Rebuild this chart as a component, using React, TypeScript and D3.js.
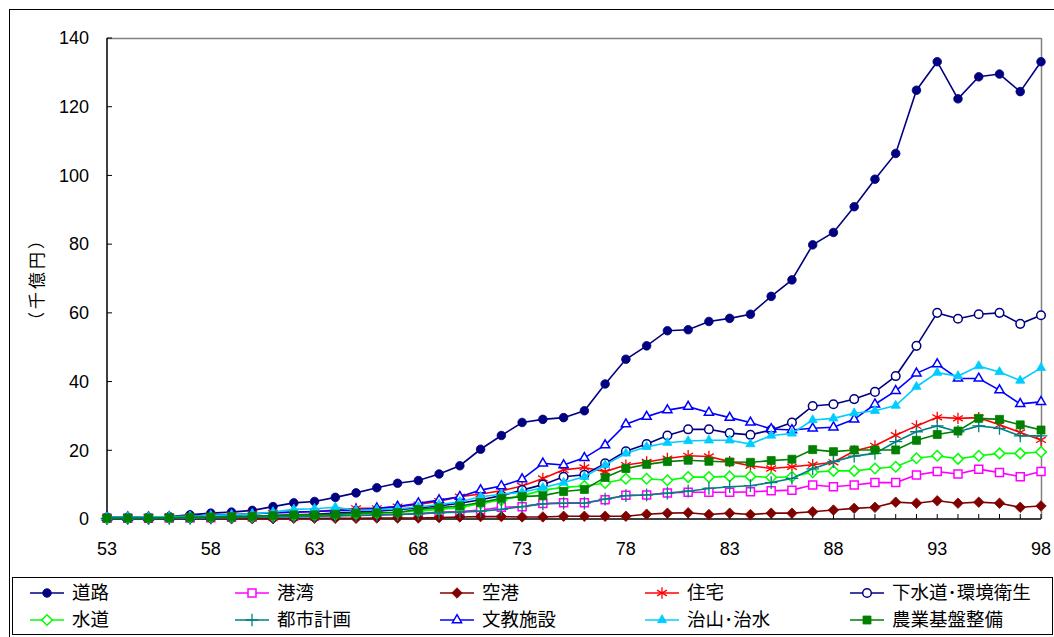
import React from 'react';
import * as d3 from 'd3';

// 年度 (53 .. 98)
const years = [
  53, 54, 55, 56, 57, 58, 59, 60, 61, 62, 63, 64, 65, 66, 67, 68, 69, 70, 71, 72, 73, 74, 75,
  76, 77, 78, 79, 80, 81, 82, 83, 84, 85, 86, 87, 88, 89, 90, 91, 92, 93, 94, 95, 96, 97, 98,
];
const xTickLabels = [53, 58, 63, 68, 73, 78, 83, 88, 93, 98];
const yTicks = [0, 20, 40, 60, 80, 100, 120, 140];

// 千億円
const road = [
  0.5, 0.5, 0.5, 0.7, 1.2, 1.7, 2.0, 2.5, 3.6, 4.7, 5.1, 6.3, 7.6, 9.1, 10.4, 11.2, 13.1, 15.5, 20.3, 24.3, 28.1, 29.0, 29.5,
  31.5, 39.3, 46.5, 50.4, 54.8, 55.1, 57.5, 58.4, 59.6, 64.8, 69.6, 79.8, 83.4, 90.9, 98.9, 106.4, 124.8, 133.1, 122.3, 128.7, 129.5, 124.4, 133.1,
];
const harbor = [
  0.2, 0.2, 0.2, 0.3, 0.3, 0.4, 0.5, 0.6, 0.7, 0.8, 0.9, 1.0, 1.1, 1.2, 1.4, 1.6, 2.0, 2.2, 2.6, 3.4, 3.6, 4.5, 4.7,
  4.7, 5.6, 6.9, 7.0, 7.6, 7.8, 7.8, 7.8, 7.9, 8.2, 8.4, 9.9, 9.4, 9.9, 10.6, 10.6, 12.8, 13.8, 13.1, 14.5, 13.5, 12.3, 13.8,
];
const airport = [
  0.0, 0.0, 0.0, 0.1, 0.1, 0.1, 0.1, 0.1, 0.1, 0.2, 0.2, 0.2, 0.2, 0.3, 0.3, 0.3, 0.4, 0.6, 0.7, 0.7, 0.6, 0.6, 0.8,
  0.8, 0.8, 0.8, 1.4, 1.7, 1.8, 1.3, 1.7, 1.3, 1.7, 1.7, 2.1, 2.6, 3.1, 3.4, 4.9, 4.6, 5.3, 4.6, 4.9, 4.6, 3.4, 3.8,
];
const housing = [
  0.3, 0.4, 0.5, 0.6, 0.8, 1.0, 1.2, 1.5, 1.8, 2.0, 2.2, 2.6, 3.1, 3.1, 3.6, 4.2, 5.2, 6.5, 7.3, 8.2, 9.6, 11.8, 14.3,
  15.0, 13.8, 15.7, 16.6, 17.6, 18.4, 18.2, 16.7, 15.5, 14.7, 15.2, 15.8, 16.5, 19.8, 21.3, 24.4, 27.1, 29.6, 29.3, 29.5, 27.4, 25.2, 23.0,
];
const sewer = [
  0.2, 0.2, 0.2, 0.3, 0.4, 0.5, 0.6, 0.8, 1.0, 1.2, 1.4, 1.7, 2.0, 2.3, 2.7, 3.2, 3.8, 4.6, 5.6, 6.8, 8.4, 10.0, 12.3,
  12.9, 16.2, 19.7, 21.8, 24.3, 26.1, 26.1, 25.0, 24.5, 25.9, 28.1, 32.9, 33.4, 34.9, 37.0, 41.6, 50.4, 60.0, 58.3, 59.6, 60.0, 56.8, 59.3,
];
const water = [
  0.2, 0.2, 0.3, 0.3, 0.4, 0.5, 0.6, 0.7, 0.8, 1.0, 1.1, 1.3, 1.5, 1.7, 2.0, 2.3, 2.8, 3.3, 4.5, 5.5, 6.8, 8.4, 9.2,
  9.6, 10.5, 11.7, 11.7, 11.3, 12.2, 12.2, 12.4, 12.4, 12.1, 12.3, 13.6, 14.0, 14.0, 14.7, 15.2, 17.7, 18.4, 17.5, 18.4, 19.1, 19.1, 19.5,
];
const cityPlan = [
  0.1, 0.1, 0.1, 0.2, 0.2, 0.3, 0.4, 0.5, 0.6, 0.7, 0.8, 0.9, 1.0, 1.1, 1.3, 1.5, 1.8, 2.0, 2.3, 2.8, 3.6, 4.4, 4.6,
  4.6, 5.8, 6.8, 7.0, 7.5, 8.1, 8.9, 9.4, 9.7, 10.6, 11.8, 14.6, 16.7, 18.3, 19.1, 22.5, 25.4, 27.1, 25.4, 27.1, 26.4, 24.2, 24.2,
];
const education = [
  0.5, 0.5, 0.5, 0.6, 0.8, 1.0, 1.2, 1.5, 1.8, 2.0, 2.2, 2.4, 2.6, 3.1, 3.6, 4.6, 5.5, 6.5, 8.4, 9.6, 11.6, 16.2, 15.7,
  17.8, 21.5, 27.6, 29.8, 31.7, 32.7, 31.0, 29.5, 28.1, 26.2, 25.9, 26.4, 26.7, 29.0, 33.4, 37.3, 42.4, 45.1, 40.9, 40.9, 37.5, 33.5, 34.1,
];
const flood = [
  0.5, 0.6, 0.6, 0.7, 0.8, 1.0, 1.2, 1.5, 2.0, 2.8, 3.0, 3.4, 2.5, 2.7, 3.0, 3.5, 4.2, 5.0, 6.5, 7.2, 7.8, 9.1, 10.6,
  12.3, 15.7, 19.1, 21.0, 22.2, 22.7, 22.9, 22.9, 21.8, 24.3, 24.9, 28.8, 29.3, 30.8, 31.5, 33.0, 38.5, 42.6, 41.6, 44.5, 42.8, 40.3, 44.0,
];
const farm = [
  0.3, 0.3, 0.3, 0.4, 0.5, 0.6, 0.7, 0.8, 1.0, 1.2, 1.2, 1.4, 1.7, 1.8, 1.9, 2.8, 3.3, 3.8, 4.8, 6.0, 6.5, 6.8, 8.0,
  8.6, 12.1, 14.7, 15.9, 16.7, 17.1, 16.8, 16.6, 16.5, 17.0, 17.4, 20.2, 19.6, 20.1, 20.1, 20.1, 22.9, 24.6, 25.6, 29.3, 29.0, 27.4, 25.9,
];

type Marker = 'circle' | 'square' | 'diamond' | 'asterisk' | 'plus' | 'triangle';

interface Series {
  name: string;
  values: number[];
  color: string;
  marker: Marker;
  filled: boolean;
}

const series: Series[] = [
  { name: '道路', values: road, color: '#000080', marker: 'circle', filled: true },
  { name: '港湾', values: harbor, color: '#FF00FF', marker: 'square', filled: false },
  { name: '空港', values: airport, color: '#800000', marker: 'diamond', filled: true },
  { name: '住宅', values: housing, color: '#FF0000', marker: 'asterisk', filled: false },
  { name: '下水道･環境衛生', values: sewer, color: '#000080', marker: 'circle', filled: false },
  { name: '水道', values: water, color: '#00FF00', marker: 'diamond', filled: false },
  { name: '都市計画', values: cityPlan, color: '#008080', marker: 'plus', filled: false },
  { name: '文教施設', values: education, color: '#0000FF', marker: 'triangle', filled: false },
  { name: '治山･治水', values: flood, color: '#00CCFF', marker: 'triangle', filled: true },
  { name: '農業基盤整備', values: farm, color: '#008000', marker: 'square', filled: true },
];

const symbolPath = (m: Marker): string => {
  switch (m) {
    case 'circle': return d3.symbol().type(d3.symbolCircle).size(58)()!;
    case 'square': return d3.symbol().type(d3.symbolSquare).size(64)()!;
    case 'diamond': return d3.symbol().type(d3.symbolDiamond2).size(70)()!;
    case 'asterisk': return d3.symbol().type(d3.symbolAsterisk).size(90)()!;
    case 'plus': return d3.symbol().type(d3.symbolPlus).size(55)()!;
    case 'triangle': return d3.symbol().type(d3.symbolTriangle2).size(60)()!;
  }
};

const numFont = '"Liberation Sans", Arial, sans-serif';
const jpFont = '"Noto Sans CJK JP", "Noto Sans", sans-serif';

function MarkerShape({ s, x, y }: { s: Series; x: number; y: number }) {
  const stroked = s.marker === 'asterisk' || s.marker === 'plus';
  return (
    <path
      d={symbolPath(s.marker)}
      transform={`translate(${x},${y})`}
      fill={stroked ? 'none' : s.filled ? s.color : '#fff'}
      stroke={s.color}
      strokeWidth={stroked ? 1.3 : s.filled ? 0.8 : 1.5}
    />
  );
}

export default function App() {
  const W = 1054;
  const H = 637;
  const plot = { left: 107, right: 1041, top: 38, bottom: 519 };

  const x = d3.scaleLinear().domain([53, 98]).range([plot.left, plot.right]);
  const y = d3.scaleLinear().domain([0, 140]).range([plot.bottom, plot.top]);

  const line = d3.line<number>()
    .x((_, i) => x(years[i]))
    .y(d => y(d));

  const legendCols = [30, 235, 440, 645, 850];
  const legendRows = [593, 620];

  return (
    <svg width={W} height={H} style={{ position: 'absolute', left: 0, top: 0, background: '#fff' }}>
      {/* outer frame */}
      <rect x={9.5} y={9.5} width={W + 10} height={H + 10} fill="none" stroke="#000" strokeWidth={1} />

      {/* plot frame */}
      <line x1={plot.left} x2={plot.right} y1={plot.top + 0.5} y2={plot.top + 0.5} stroke="#808080" strokeWidth={1.5} />
      <line x1={plot.right + 0.5} x2={plot.right + 0.5} y1={plot.top} y2={plot.bottom} stroke="#808080" strokeWidth={1.5} />

      {/* y axis */}
      <line x1={plot.left} x2={plot.left} y1={plot.top} y2={plot.bottom} stroke="#000" strokeWidth={1.5} />
      {yTicks.map(t => (
        <g key={t}>
          <line x1={plot.left} x2={plot.left + 5} y1={y(t)} y2={y(t)} stroke="#000" strokeWidth={1} />
          <text x={89} y={y(t)} dy="0.35em" textAnchor="end" fontFamily={numFont} fontSize={18} fill="#000">
            {t}
          </text>
        </g>
      ))}
      <text
        transform="translate(37,279) rotate(-90)"
        dy="0.35em"
        fontFamily={jpFont}
        fontSize={17}
        letterSpacing={3}
        textAnchor="middle"
        fill="#000"
      >
        （千億円）
      </text>

      {/* x axis */}
      <line x1={plot.left} x2={plot.right} y1={plot.bottom} y2={plot.bottom} stroke="#000" strokeWidth={1.5} />
      {years.map(yr => (
        <line key={yr} x1={x(yr)} x2={x(yr)} y1={plot.bottom} y2={plot.bottom - 5} stroke="#000" strokeWidth={1} />
      ))}
      {xTickLabels.map(t => (
        <text key={t} x={x(t)} y={549} dy="0.35em" textAnchor="middle" fontFamily={numFont} fontSize={18} fill="#000">
          {t}
        </text>
      ))}

      {/* series */}
      {series.map(s => (
        <g key={s.name}>
          <path d={line(s.values)!} fill="none" stroke={s.color} strokeWidth={1.6} />
          {s.values.map((v, i) => (
            <MarkerShape key={i} s={s} x={x(years[i])} y={y(v)} />
          ))}
        </g>
      ))}

      {/* legend */}
      <rect x={12.5} y={577.5} width={1040} height={57} fill="#fff" stroke="#000" strokeWidth={1} />
      {series.map((s, i) => {
        const cx = legendCols[i % 5];
        const cy = legendRows[Math.floor(i / 5)];
        return (
          <g key={s.name}>
            <line x1={cx} x2={cx + 34} y1={cy} y2={cy} stroke={s.color} strokeWidth={1.6} />
            <MarkerShape s={s} x={cx + 17} y={cy} />
            <text x={cx + 42} y={cy} dy="0.35em" fontFamily={jpFont} fontSize={18.5} fill="#000">
              {s.name}
            </text>
          </g>
        );
      })}
    </svg>
  );
}
